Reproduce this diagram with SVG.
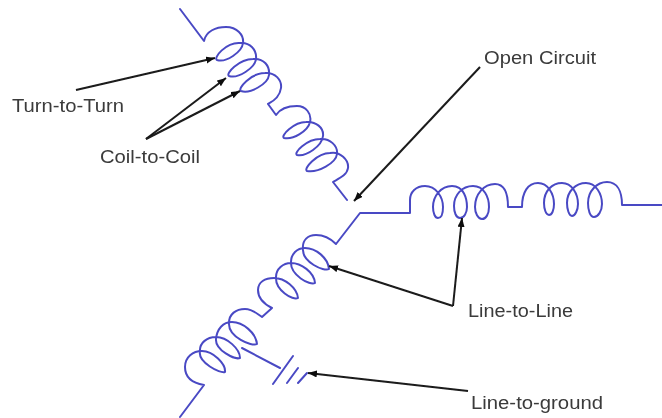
<svg xmlns="http://www.w3.org/2000/svg" width="662" height="418" viewBox="0 0 662 418">
<style>
.w{fill:none;stroke:#4a4ac4;stroke-width:2;stroke-linejoin:round;stroke-linecap:round}
.a{fill:none;stroke:#1a1a1a;stroke-width:2;marker-end:url(#h)}
.t{font-family:"Liberation Sans",Arial,sans-serif;font-size:17.5px;fill:#3a3a3a}
</style>
<defs>
<marker id="h" markerUnits="userSpaceOnUse" markerWidth="11" markerHeight="8" refX="9" refY="3.5" orient="auto"><path d="M0 0L9 3.5L0 7Z" fill="#111"/></marker>
<filter id="b" x="-5%" y="-5%" width="110%" height="110%"><feGaussianBlur stdDeviation="0.5"/></filter>
</defs>
<rect width="662" height="418" fill="#fff"/>
<g filter="url(#b)">
<g id="winding-top">
<path class="w" d="M180 9L204 41C206 31 216 27 226 27C237 27 244 35 243 43C242 52 226 63 217 60C213 58 226 42 240 43C250 42 257 50 256 59C255 68 238 79 229 76C225 74 239 59 253 59C264 58 270 66 269 75C268 84 250 94 241 91C237 89 251 73 265 73C275 72 282 80 281 88C280 95 276 100 268 104L276 115C280 109 288 106 297 106C306 106 312 114 310 122C308 131 293 140 284 138C280 136 294 122 306 122C316 121 324 128 323 136C322 146 306 157 297 155C293 153 307 139 320 139C330 138 338 146 337 154C336 163 318 173 307 171C303 169 317 153 330 153C340 151 349 160 348 168C347 175 340 178 333 182L347 200"/>
</g>
<g id="winding-lower-right">
<path class="w" d="M180 417L204 385C192 383 185 377 185 367C185 357 193 351 202 351C213 351 226 364 225 372C220 374 198 362 200 352C199 343 207 337 216 337C227 337 240 349 240 358C235 360 215 350 216 339C217 329 223 322 232 322C243 322 256 333 257 344C252 347 228 337 229 323C229 314 236 309 245 309C252 309 256 313 262 317L272 308C264 304 258 298 258 290C258 282 265 278 274 278C285 278 297 288 298 298C293 301 275 290 276 277C276 269 283 263 291 263C301 263 314 272 315 283C310 286 290 275 291 262C291 254 297 248 305 248C316 248 328 258 329 269C324 272 302 262 303 249C302 240 308 235 316 235C324 235 330 238 336 244L360 213L410 213L410 200C410 192 416 186 425 186C436 186 443 197 443 207C443 214 441 218 438 218C435 218 433 213 433 207C433 196 441 186 452 186C464 186 467 199 467 207C467 213 464 218 460 218C456 218 454 212 454 206C454 195 462 186 473 186C484 186 489 197 489 207C489 214 486 219 482 219C478 219 475 213 475 207C475 194 484 184 495 184C504 184 508 192 508 207L522 207C522 192 528 183 538 183C548 183 554 194 554 204C554 210 552 215 549 215C546 215 544 209 544 203C544 191 552 183 562 183C572 183 578 194 578 204C578 210 575 216 572 216C569 216 567 209 567 203C567 191 576 183 586 183C596 183 602 194 602 204C602 211 598 217 594 217C590 217 588 210 588 203C588 191 597 182 607 182C617 182 622 191 622 205L662 205"/>
</g>
<g id="ground">
<path class="w" d="M242 348L280 368M293 356L273 384M298 368L287 383M307 373L298 383"/>
</g>
<g id="connectors">
<path class="a" d="M76 90L215 58"/>
<path class="a" d="M146 139L226 78"/>
<path class="a" d="M146 139L240 91"/>
<path class="a" d="M480 67L354 201"/>
<path class="a" d="M453 306L462 218"/>
<path class="a" d="M453 306L329 266"/>
<path class="a" d="M468 391L308 373"/>
</g>
<g id="labels">
<text class="t" x="12" y="112" textLength="112" lengthAdjust="spacingAndGlyphs">Turn-to-Turn</text>
<text class="t" x="100" y="163" textLength="100" lengthAdjust="spacingAndGlyphs">Coil-to-Coil</text>
<text class="t" x="484" y="64" textLength="112" lengthAdjust="spacingAndGlyphs">Open Circuit</text>
<text class="t" x="468" y="317" textLength="105" lengthAdjust="spacingAndGlyphs">Line-to-Line</text>
<text class="t" x="471" y="409" textLength="132" lengthAdjust="spacingAndGlyphs">Line-to-ground</text>
</g>
</g>
</svg>
